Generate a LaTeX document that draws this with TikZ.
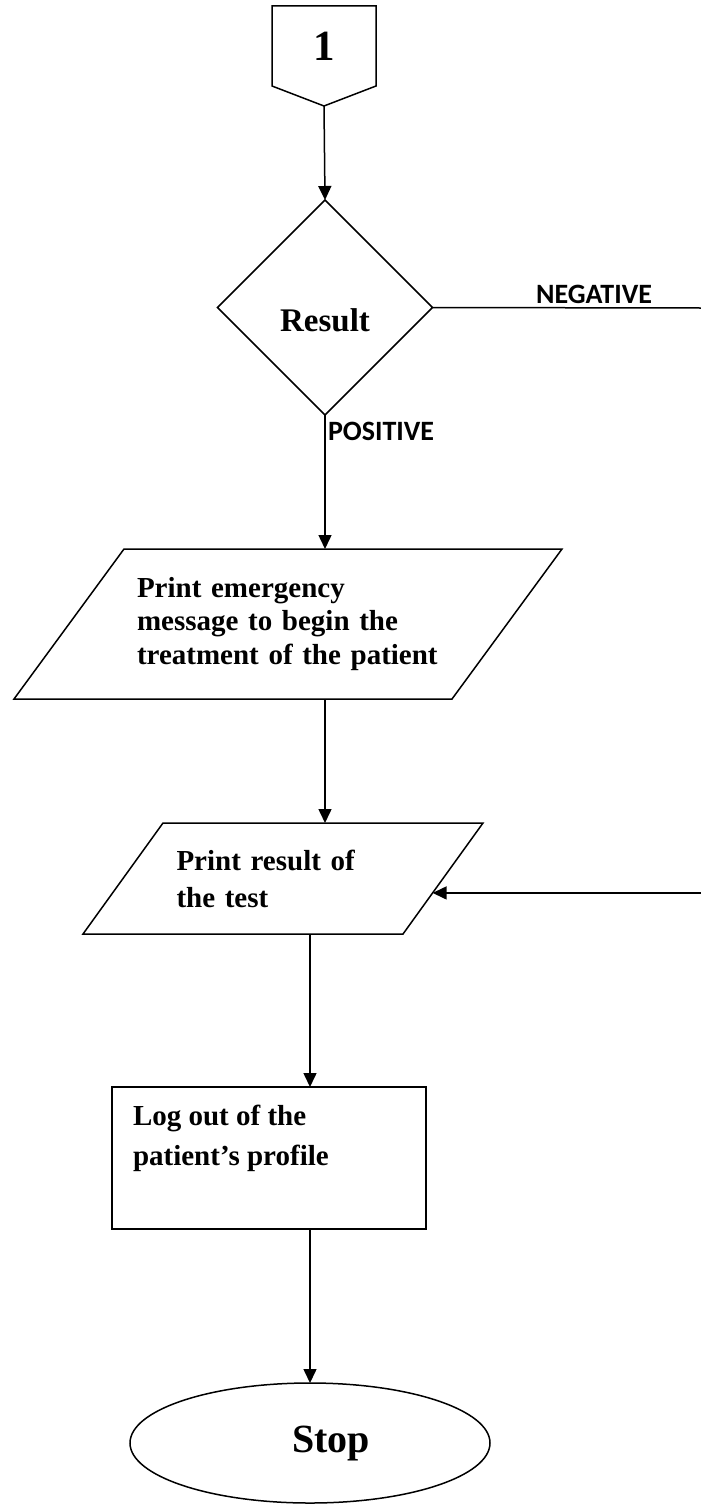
\documentclass[tikz,border=0pt]{standalone}
\usepackage{fontspec}
\setmainfont{Liberation Serif}
\newfontfamily\calibfont{Carlito}
\usetikzlibrary{shapes.geometric,arrows.meta,calc}

\begin{document}
\begin{tikzpicture}[x=1pt,y=-1pt,>={Triangle[width=13pt,length=14pt]},line width=1.5pt,
  every node/.style={inner sep=0pt,outer sep=0pt},
  offpage/.style={minimum width=104pt,minimum height=80pt,font=\fontsize{43}{43}\selectfont\bfseries},
  decision/.style={diamond,draw,aspect=1,minimum width=215pt,minimum height=215pt},
  iobody/.style={rectangle},
  procbox/.style={rectangle,draw,minimum width=314pt,minimum height=142pt},
  terminal/.style={ellipse,draw,minimum width=360pt,minimum height=120pt},
  bodytxt/.style={font=\fontsize{29}{33.5}\selectfont\bfseries,align=left},
  tag/.style={font=\calibfont\fontsize{28}{28}\selectfont\bfseries}]
  \useasboundingbox (0,0) rectangle (701,1504);
  % off-page connector
  \node[offpage] (c1) at (324,46) {1};
  \coordinate (c1tip) at ($(c1.south)+(0,20)$);
  \draw (c1.north west) -- (c1.north east) -- (c1.south east) -- (c1tip) -- (c1.south west) -- cycle;
  % decision
  \node[decision] (result) at (325,307.5) {};
  \node[font=\fontsize{33}{33}\selectfont\bfseries] (resulttxt) at (325,320.5) {Result};
  \node[tag,anchor=base] (neg) at (594,303) {NEGATIVE};
  \node[tag,anchor=base west] (pos) at (328,440) {POSITIVE};
  % outputs (parallelograms)
  \node[iobody,minimum width=438pt,minimum height=150pt,bodytxt,text width=302pt] (emerg) at (288,624)
    {Print emergency\\message to begin the\\treatment of the patient};
  \draw ($(emerg.north west)+(55,0)$) -- ($(emerg.north east)+(55,0)$) -- ($(emerg.south east)+(-55,0)$)
    -- ($(emerg.south west)+(-55,0)$) -- cycle;
  \node[iobody,minimum width=320pt,minimum height=111pt,bodytxt,text width=213pt,
    font=\fontsize{29}{37}\selectfont\bfseries] (printres) at (283,878.5) {Print result of\\the test};
  \coordinate (printres-tr) at ($(printres.north east)+(40,0)$);
  \coordinate (printres-br) at ($(printres.south east)+(-40,0)$);
  \draw ($(printres.north west)+(40,0)$) -- (printres-tr) -- (printres-br) -- ($(printres.south west)+(-40,0)$) -- cycle;
  % log out
  \node[procbox] (logout) at (269,1158) {};
  \node[bodytxt,anchor=north west,font=\fontsize{29}{40}\selectfont\bfseries] (logouttxt) at (133,1105)
    {Log out of the\\patient's profile};
  % end
  \node[terminal,text width=120pt,align=right,font=\fontsize{40}{40}\selectfont\bfseries] (stop) at (310,1443) {Stop};
  % connectors
  \coordinate (negend) at (701,308);
  \coordinate (retpt) at ($(printres-br)!0.37!(printres-tr)$);
  \coordinate (negret) at (negend |- retpt);
  \draw[->] (c1tip) -- (result.north);
  \draw (result.east) -- (negend);
  \draw[->] (result.south) -- (result.south |- emerg.north);
  \draw[->] (emerg.south -| result.south) -- (printres.north -| result.south);
  \draw[->] (printres.south -| stop.north) -- (logout.north -| stop.north);
  \draw[->] (logout.south -| stop.north) -- (stop.north);
  \draw[->] (negret) -- (retpt);
\end{tikzpicture}
\end{document}
